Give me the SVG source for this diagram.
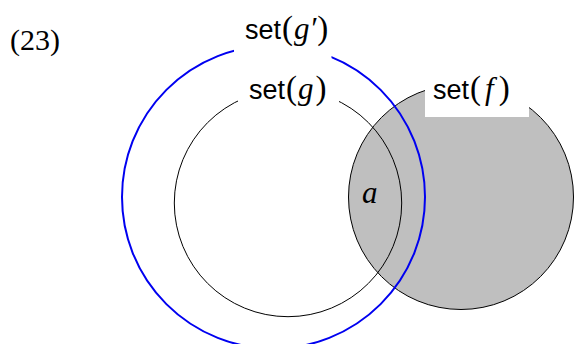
<svg xmlns="http://www.w3.org/2000/svg" width="574" height="344" viewBox="0 0 574 344">
<style>
.sans{font-family:"Liberation Sans",Arial,sans-serif;font-size:27px;fill:#000}
.ser{font-family:"Liberation Serif","Times New Roman",serif;font-size:33px}
.it{font-family:"Liberation Serif","Times New Roman",serif;font-style:italic;font-size:31px}
.num{font-family:"Liberation Serif","Times New Roman",serif;font-size:30px}
.mask{fill:#fff;stroke:none}
</style>
<rect width="574" height="344" fill="#fff"/>
<g id="set-f">
<circle cx="461" cy="197" r="112.5" fill="#bfbfbf" stroke="#000" stroke-width="1"/>
</g>
<g id="set-g">
<circle cx="288" cy="203" r="113.7" fill="none" stroke="#000" stroke-width="1"/>
</g>
<g id="set-gprime">
<circle cx="273.5" cy="197" r="151.5" fill="none" stroke="#0000f0" stroke-width="2"/>
</g>
<g id="labels">
<rect class="mask" x="234" y="8" width="97.5" height="55"/>
<text x="245" y="39" class="sans">set<tspan class="ser" dx="1">(</tspan><tspan class="it" dx="1">g′</tspan><tspan class="ser" dx="1">)</tspan></text>
<rect class="mask" x="238" y="70" width="101" height="38"/>
<text x="249" y="99" class="sans">set<tspan class="ser" dx="1">(</tspan><tspan class="it" dx="1">g</tspan><tspan class="ser" dx="2">)</tspan></text>
<rect class="mask" x="425" y="68" width="104" height="49"/>
<text x="433" y="99" class="sans">set<tspan class="ser" dx="1">(</tspan><tspan class="it" dx="4">f</tspan><tspan class="ser" dx="5">)</tspan></text>
<text x="362" y="203" class="it">a</text>
<text x="10" y="50" class="num">(23)</text>
</g>
</svg>
